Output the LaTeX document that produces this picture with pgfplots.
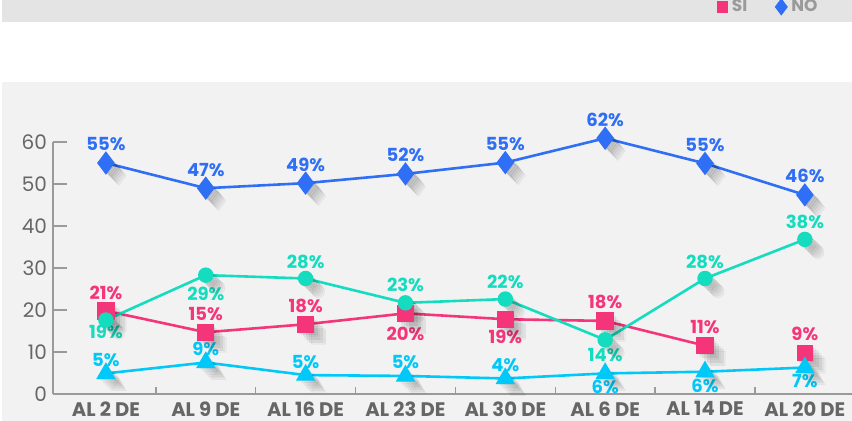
\documentclass[border=0pt]{standalone}
\usepackage{pgfplots}
\pgfplotsset{compat=1.18}
\usepackage{pgfplotstable}
\usepackage{fontspec}
\setmainfont{Poppins}
\definecolor{cblue}{HTML}{2F6FF5}
\definecolor{cpink}{HTML}{F5357A}
\definecolor{cteal}{HTML}{14DCBE}
\definecolor{ccyan}{HTML}{00C8F8}
\definecolor{ctick}{HTML}{666666}
\definecolor{caxis}{HTML}{9A9A9A}
\definecolor{cband}{HTML}{E4E4E4}
\definecolor{cpanel}{HTML}{F2F2F2}
\pgfplotstableread{
x no si sib te cy
0 55.0 19.8 nan 17.6 4.9
1 49.0 14.7 nan 28.3 7.5
2 50.2 16.6 nan 27.5 4.5
3 52.4 19.2 nan 21.7 4.3
4 55.1 17.8 nan 22.6 3.7
5 60.9 17.4 nan 12.9 4.9
6 54.9 11.5 nan 27.5 5.3
7 47.4 nan 9.8 36.8 6.3
}\data
\begin{document}
\begin{tikzpicture}[x=0.5pt,y=0.5pt,
  lab/.style={font=\fontsize{9}{10}\selectfont\bfseries, inner sep=0pt, anchor=base}]
\clip (0,0) rectangle (852,421);
\fill[white] (0,0) rectangle (852,421);
\fill[cband] (2,421) rectangle (852,399);
\fill[cpanel] (2,339) rectangle (852,0);
\begin{axis}[
  at={(26.5pt,13.5pt)}, anchor=south west,
  scale only axis, width=399.4pt, height=126pt,
  xmin=-0.53, xmax=7.47, ymin=0, ymax=60,
  axis lines*=left,
  axis line style={caxis, line width=0.8pt},
  clip=false,
  tick align=inside,
  major tick length=7pt, minor tick length=3.5pt,
  every tick/.style={caxis, line width=0.7pt},
  every major x tick/.append style={draw=none},
  xtick={0,...,7},
  minor xtick={0.5,1.5,...,6.5},
  xticklabels={AL 2 DE, AL 9 DE, AL 16 DE, AL 23 DE, AL 30 DE, AL 6 DE, AL 14 DE, AL 20 DE},
  xticklabel style={font=\fontsize{9.8}{12}\selectfont\bfseries, text=ctick, anchor=north, inner sep=0pt, yshift=-3.6pt},
  ytick={0,10,...,60},
  yticklabel style={font=\fontsize{10}{12}\selectfont, text=ctick, xshift=0.5pt},
  /pgf/number format/assume math mode=true,
  unbounded coords=jump,
  legend columns=2,
  legend style={at={(0.97,1.536)}, anchor=east, draw=none, fill=none,
    font=\fontsize{8.5}{10}\selectfont\bfseries, text=caxis,
    /tikz/every even column/.append style={column sep=12pt}},
  shadow/.style={only marks, forget plot, black, opacity=0.035, mark options={draw=none, fill=black}},
]
\addlegendimage{only marks, mark=square*, cpink, mark size=2.6pt}
\addlegendentry{SI}
\addlegendimage{only marks, mark=diamond*, cblue, mark size=4pt}
\addlegendentry{NO}
% shadows
\pgfplotsinvokeforeach{0.8,1.6,2.4,3.2,4.0,4.8,5.6,6.4}{
\addplot[shadow, mark=diamond*, mark size=4.8pt, mark options={xshift=#1pt, yshift=-#1pt}] table[x=x,y=no]{\data};
\addplot[shadow, mark=square*, mark size=3.7pt, mark options={xshift=#1pt, yshift=-#1pt}] table[x=x,y=si]{\data};
\addplot[shadow, mark=square*, mark size=3.7pt, mark options={xshift=#1pt, yshift=-#1pt}] table[x=x,y=sib]{\data};
\addplot[shadow, mark=*, mark size=3.2pt, mark options={xshift=#1pt, yshift=-#1pt}] table[x=x,y=te]{\data};
\addplot[shadow, mark=triangle*, mark size=4.3pt, mark options={xshift=#1pt, yshift=-#1pt}] table[x=x,y=cy]{\data};
}
% series
\addplot[forget plot, cblue, line width=1.3pt, mark=diamond*, mark size=4.8pt] table[x=x,y=no]{\data};
\addplot[forget plot, cpink, line width=1.3pt, mark=square*, mark size=3.7pt] table[x=x,y=si]{\data};
\addplot[forget plot, cpink, only marks, mark=square*, mark size=3.7pt] table[x=x,y=sib]{\data};
\addplot[forget plot, cteal, line width=1.3pt, mark=*, mark size=3.2pt] table[x=x,y=te]{\data};
\addplot[forget plot, ccyan, line width=1.3pt, mark=triangle*, mark size=4.3pt] table[x=x,y=cy]{\data};
% labels NO
\node[lab, text=cblue, yshift=6pt] at (axis cs:0,55.0) {55\%};
\node[lab, text=cblue, yshift=6pt] at (axis cs:1,49.0) {47\%};
\node[lab, text=cblue, yshift=6pt] at (axis cs:2,50.2) {49\%};
\node[lab, text=cblue, yshift=6pt] at (axis cs:3,52.4) {52\%};
\node[lab, text=cblue, yshift=6pt] at (axis cs:4,55.1) {55\%};
\node[lab, text=cblue, yshift=6pt] at (axis cs:5,60.9) {62\%};
\node[lab, text=cblue, yshift=6pt] at (axis cs:6,54.9) {55\%};
\node[lab, text=cblue, yshift=6pt] at (axis cs:7,47.4) {46\%};
% labels SI
\node[lab, text=cpink, yshift=5.5pt] at (axis cs:0,19.8) {21\%};
\node[lab, text=cpink, yshift=6pt] at (axis cs:1,14.7) {15\%};
\node[lab, text=cpink, yshift=6pt] at (axis cs:2,16.6) {18\%};
\node[lab, text=cpink, yshift=-13.5pt] at (axis cs:3,19.2) {20\%};
\node[lab, text=cpink, yshift=-12pt] at (axis cs:4,17.8) {19\%};
\node[lab, text=cpink, yshift=6pt] at (axis cs:5,17.4) {18\%};
\node[lab, text=cpink, yshift=6pt] at (axis cs:6,11.5) {11\%};
\node[lab, text=cpink, yshift=6pt] at (axis cs:7,9.8) {9\%};
% labels teal
\node[lab, text=cteal, yshift=-9pt] at (axis cs:0,17.6) {19\%};
\node[lab, text=cteal, yshift=-12.5pt] at (axis cs:1,28.3) {29\%};
\node[lab, text=cteal, yshift=5pt] at (axis cs:2,27.5) {28\%};
\node[lab, text=cteal, yshift=5.5pt] at (axis cs:3,21.7) {23\%};
\node[lab, text=cteal, yshift=5.5pt] at (axis cs:4,22.6) {22\%};
\node[lab, text=cteal, yshift=-11pt] at (axis cs:5,12.9) {14\%};
\node[lab, text=cteal, yshift=5pt] at (axis cs:6,27.5) {28\%};
\node[lab, text=cteal, yshift=5.5pt] at (axis cs:7,36.8) {38\%};
% labels cyan
\node[lab, text=ccyan, yshift=3.5pt] at (axis cs:0,4.9) {5\%};
\node[lab, text=ccyan, yshift=3.5pt] at (axis cs:1,7.5) {9\%};
\node[lab, text=ccyan, yshift=3.5pt] at (axis cs:2,4.5) {5\%};
\node[lab, text=ccyan, yshift=3.5pt] at (axis cs:3,4.3) {5\%};
\node[lab, text=ccyan, yshift=3.5pt] at (axis cs:4,3.7) {4\%};
\node[lab, text=ccyan, yshift=-10pt] at (axis cs:5,4.9) {6\%};
\node[lab, text=ccyan, yshift=-10.5pt] at (axis cs:6,5.3) {6\%};
\node[lab, text=ccyan, yshift=-10pt] at (axis cs:7,6.3) {7\%};
\end{axis}
\end{tikzpicture}
\end{document}
